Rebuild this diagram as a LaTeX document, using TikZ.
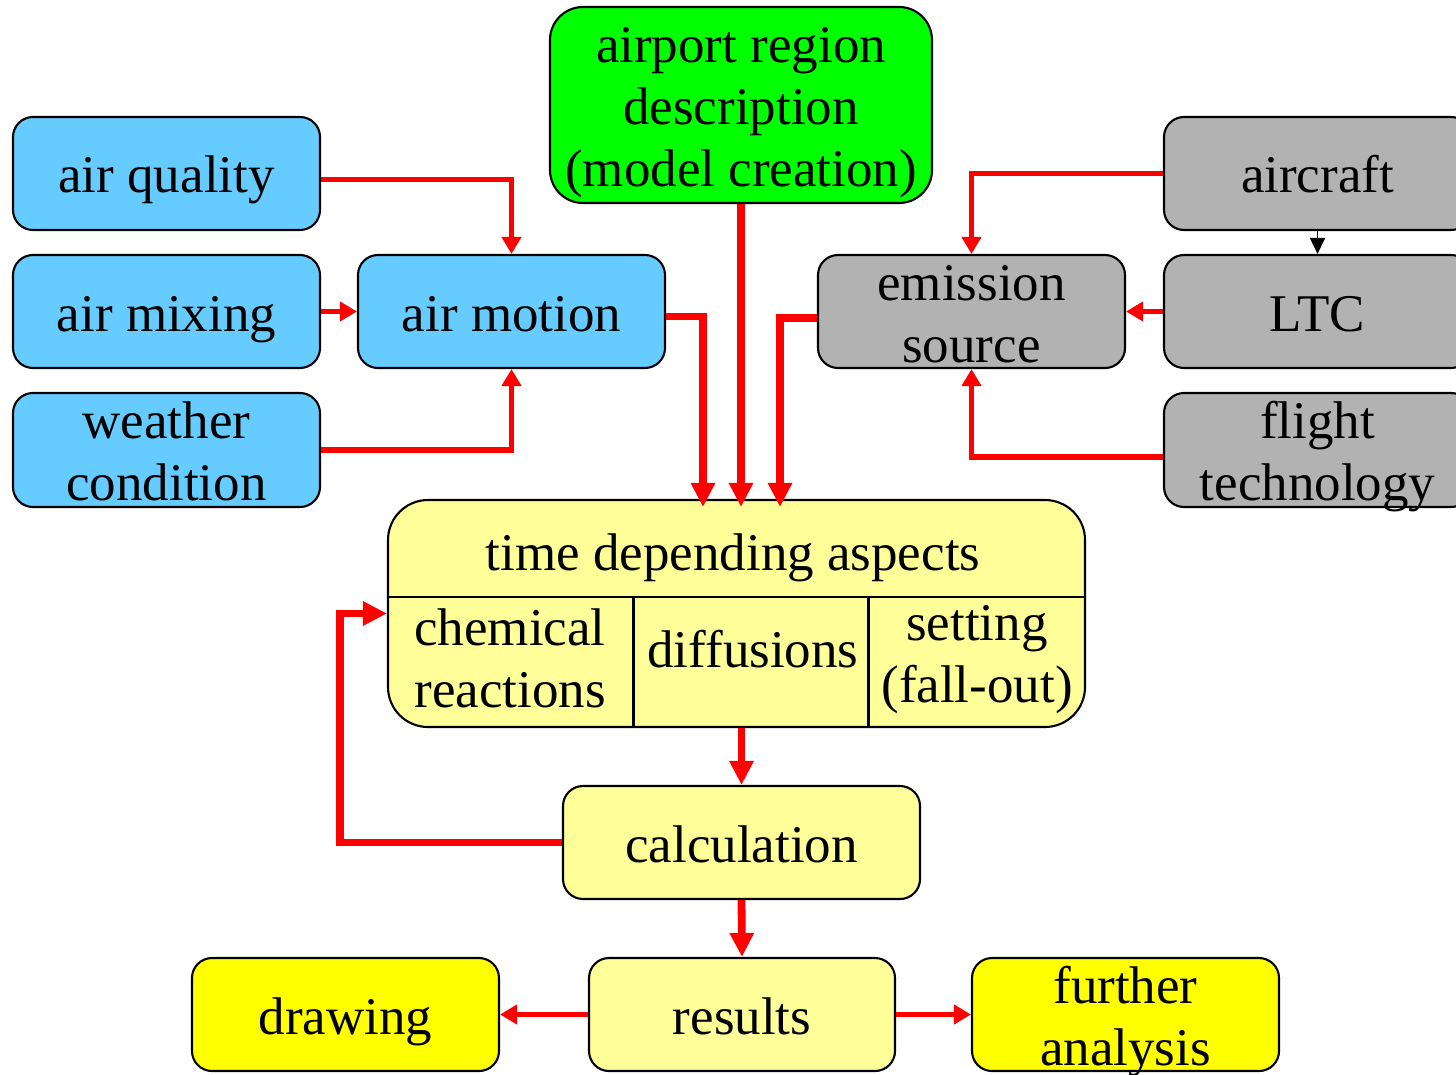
\documentclass[tikz,border=0pt]{standalone}
\usepackage{fontspec}
\setmainfont{Liberation Serif}
\usetikzlibrary{arrows.meta}
\definecolor{skyfill}{HTML}{66CCFF}
\definecolor{greenfill}{HTML}{00FF00}
\definecolor{grayfill}{HTML}{B2B2B2}
\definecolor{paleyellow}{HTML}{FFFF99}
\definecolor{brightyellow}{HTML}{FFFF00}
\tikzset{
  txt/.style={font=\fontsize{15.08pt}{17.64pt}\selectfont, align=center, inner sep=0pt, text depth=0pt},
  oneline/.style={text height=0.39cm},
  twolines/.style={text height=1.01cm},
  threelines/.style={text height=1.63cm},
  box/.style={txt, draw=black, line width=0.6pt, rounded corners=0.2cm,
    minimum width=3.07cm, minimum height=1.13cm},
  thinarr/.style={draw=red, line width=0.056cm, -{Triangle[width=0.19cm,length=0.17cm]}},
  heavyarr/.style={draw=red, line width=0.078cm, -{Triangle[width=0.23cm,length=0.24cm]}},
  blackarr/.style={draw=black, line width=0.5pt, -{Triangle[width=0.15cm,length=0.16cm]}},
  divider/.style={draw=black, line width=0.7pt}
}
\begin{document}
\begin{tikzpicture}
\path[use as bounding box, clip] (0,0) rectangle (14.56,-10.74);

% meteorological inputs
\node[box, fill=skyfill, oneline] (aq) at (1.665,-1.735) {air quality};
\node[box, fill=skyfill, oneline] (amx) at (1.665,-3.115) {air mixing};
\node[box, fill=skyfill, twolines, minimum height=1.14cm] (wc) at (1.665,-4.50) {weather\\condition};
\node[box, fill=skyfill, oneline] (amo) at (5.115,-3.115) {air motion};

% model of the airport region
\node[box, fill=greenfill, threelines, minimum width=3.82cm, minimum height=1.96cm,
  rounded corners=0.33cm] (ap) at (7.41,-1.05) {airport region\\description\\(model creation)};

% emission inputs
\node[box, fill=grayfill, oneline] (ac) at (13.175,-1.735) {aircraft};
\node[box, fill=grayfill, oneline] (ltc) at (13.175,-3.115) {LTC};
\node[box, fill=grayfill, twolines, minimum height=1.14cm] (ft) at (13.175,-4.50) {flight\\technology};
\node[box, fill=grayfill, twolines] (es) at (9.715,-3.115) {emission\\source};

% time depending aspects, split into three cells
\node[draw=black, fill=paleyellow, line width=0.6pt, rounded corners=0.4cm,
  minimum width=6.97cm, minimum height=2.27cm, inner sep=0pt] (tda) at (7.365,-6.135) {};
\draw[divider] (tda.west |- 0,-5.97) -- (tda.east |- 0,-5.97);
\draw[divider] (6.335,-5.97) -- (6.335,0 |- tda.south);
\draw[divider] (8.685,-5.97) -- (8.685,0 |- tda.south);
\node[txt, oneline] (tdat) at (7.33,-5.505) {time depending aspects};
\node[txt, twolines] (chem) at (5.10,-6.565) {chemical\\reactions};
\node[txt, oneline] (diff) at (7.53,-6.475) {diffusions};
\node[txt, twolines] (sett) at (9.77,-6.515) {setting\\(fall-out)};

% calculation and outputs
\node[box, fill=paleyellow, oneline, minimum width=3.57cm] (calc) at (7.415,-8.425) {calculation};
\node[box, fill=paleyellow, oneline, minimum width=3.06cm] (res) at (7.42,-10.145) {results};
\node[box, fill=brightyellow, oneline] (dr) at (3.455,-10.145) {drawing};
\node[box, fill=brightyellow, twolines] (fa) at (11.255,-10.145) {further\\analysis};

% connectors
\draw[thinarr] ([yshift=-0.06cm]aq.east) -| (amo.north);
\draw[thinarr] (amx.east) -- (amo.west);
\draw[thinarr] (wc.east) -| (amo.south);
\draw[heavyarr, shorten >=-0.08cm] ([yshift=-0.05cm]amo.east) -| ([xshift=-0.335cm]tda.north);
\draw[heavyarr, shorten >=-0.08cm] (ap.south) -- (ap.south |- tda.north);
\draw[heavyarr, shorten >=-0.08cm] ([yshift=-0.065cm]es.west) -| ([xshift=0.435cm]tda.north);
\draw[thinarr] (ac.west) -| (es.north);
\draw[thinarr] (ltc.west) -- (es.east);
\draw[thinarr] ([yshift=-0.07cm]ft.west) -| (es.south);
\draw[blackarr] (ac.south) -- (ltc.north);
\draw[heavyarr] (calc.north |- tda.south) -- (calc.north);
\draw[heavyarr] (calc.west) -- ++(-2.22,0) |- (tda.west);
\draw[heavyarr] (calc.south) -- (res.north);
\draw[thinarr] (res.west) -- (dr.east);
\draw[thinarr] (res.east) -- (fa.west);
\end{tikzpicture}
\end{document}
